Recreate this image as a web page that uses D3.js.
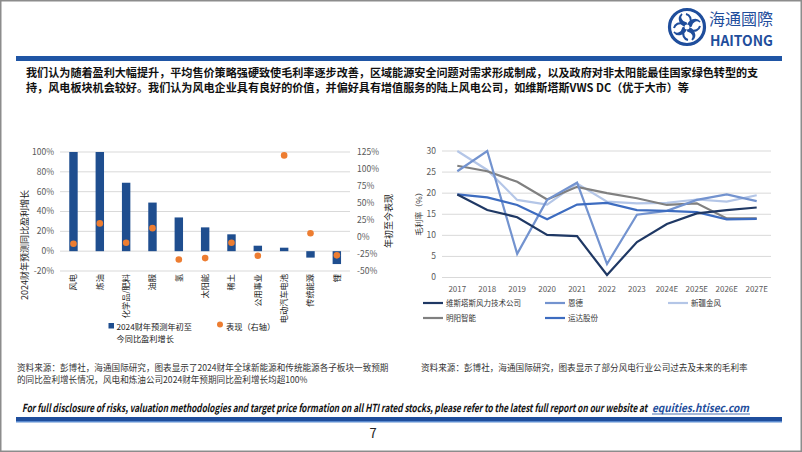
<!DOCTYPE html>
<html><head><meta charset="utf-8">
<script src="https://cdn.jsdelivr.net/npm/d3@7"></script>
<style>
html,body{margin:0;padding:0;background:#fff;}
svg{display:block;}
text{font-family:"Noto Sans CJK SC","Noto Sans",sans-serif;}
</style></head>
<body>
<svg id="c" width="802" height="452"></svg>
<script>
// ---------- data ----------
const categories = ["风电","炼油","化学品/肥料","油服","氢","太阳能","稀土","公用事业","电动汽车电池","传统能源","锂"];
const growth2024 = [100,100,69,49,34,24,17,5.5,3.5,-6.5,-13];
const ytdPerf = [-10,20,-8.5,13,-33,-31,-8.5,-27.5,120,5.5,-27];
const leftTicks = [-20,0,20,40,60,80,100];
const rightTicks = [-50,-25,0,25,50,75,100,125];

const years = ["2017","2018","2019","2020","2021","2022","2023","2024E","2025E","2026E","2027E"];
const vestas   = [19.7,16.0,14.3,10.1,9.8,0.6,8.4,12.7,15.2,16.0,16.6];
const nordex   = [25.2,30.0,5.6,18.4,22.5,3.2,14.9,15.8,18.4,19.7,18.1];
const goldwind = [30.0,25.5,18.4,17.3,22.3,18.0,17.6,17.7,18.5,18.0,19.5];
const mingyang = [26.5,25.2,22.7,18.5,21.5,20.0,18.8,17.2,17.6,14.0,14.0];
const windey   = [19.7,19.0,17.2,13.8,17.3,17.7,16.0,15.8,15.5,13.8,13.9];
const seriesNames = ["维斯塔斯风力技术公司","恩德","新疆金风","明阳智能","运达股份"];
const marginTicks = [0,5,10,15,20,25,30];

// ---------- styles ----------
const BLUE = "#1f4e8f", ORANGE = "#ed7d31", GRID = "#d9d9d9", TICK = "#595959";
const lineColors = ["#1f3864","#7393cf","#b4c6e7","#808080","#3d6cc0"];

const svg = d3.select("#c");
svg.append("rect").attr("width",802).attr("height",452).attr("fill","#fff");

// squeeze a text horizontally to a target width with a transform (keeps boxes honest)
function fitWidth(sel, x, y, target){
  const w = sel.node().getComputedTextLength();
  const s = Math.min(1, target / w);
  sel.attr("x",0).attr("y",0).attr("transform",`translate(${x},${y}) scale(${s},1)`);
}

// ---------- header ----------
const logo = svg.append("g").attr("transform","translate(687,27)");
logo.append("circle").attr("r",17.5).attr("fill","none").attr("stroke","#1f4e9c").attr("stroke-width",3.2);
for (let k=0;k<4;k++){
  logo.append("path")
    .attr("d","M0,0 C2,-7 9,-10 13,-5 C10,-8 5,-6 4,-1 Z")
    .attr("transform",`rotate(${k*90})`)
    .attr("fill","#1f4e9c").attr("stroke","#1f4e9c").attr("stroke-width",1.6);
  logo.append("path")
    .attr("d","M3,3 C8,5 12,3 13,-1")
    .attr("transform",`rotate(${k*90})`)
    .attr("fill","none").attr("stroke","#1f4e9c").attr("stroke-width",2);
}
logo.append("circle").attr("r",2.5).attr("fill","#fff");
svg.append("text").attr("x",709).attr("y",24.5).attr("font-size",16).attr("fill","#1f4e9c")
  .text("海通國際");
const hai = svg.append("text").attr("font-size",14.5).attr("font-weight","bold")
  .attr("fill","#1f4e9c").attr("font-family","Liberation Sans, Arial, sans-serif").text("HAITONG");
fitWidth(hai,710,46,63);

svg.append("rect").attr("x",16).attr("y",56).attr("width",766).attr("height",5).attr("fill","#1f55a5");

const para = [
 "我们认为随着盈利大幅提升，平均售价策略强硬致使毛利率逐步改善，区域能源安全问题对需求形成制成，以及政府对非太阳能最佳国家绿色转型的支",
 "持，风电板块机会较好。我们认为风电企业具有良好的价值，并偏好具有增值服务的陆上风电公司，如维斯塔斯VWS DC（优于大市）等"
];
svg.append("text").attr("x",26).attr("y",77).attr("font-size",11.1).attr("font-weight","bold").attr("fill","#111").text(para[0]);
svg.append("text").attr("x",26).attr("y",92).attr("font-size",11.1).attr("font-weight","bold").attr("fill","#111").text(para[1]);

// ---------- left chart ----------
const xL = d3.scaleBand().domain(categories).range([60.3,350]).paddingInner(0.68).paddingOuter(0.34);
const yL = d3.scaleLinear().domain([-20,100]).range([271,152]);
const yR = d3.scaleLinear().domain([-50,125]).range([271,152]);

const gL = svg.append("g");
gL.selectAll("line.grid").data(leftTicks).join("line")
  .attr("x1",60).attr("x2",350).attr("y1",d=>yL(d)).attr("y2",d=>yL(d))
  .attr("stroke",GRID).attr("stroke-width",1);
gL.selectAll("text.lt").data(leftTicks).join("text")
  .attr("x",54).attr("y",d=>yL(d)).attr("dy","0.35em").attr("text-anchor","end")
  .attr("font-size",8.5).attr("fill",TICK).attr("font-family","Liberation Sans, Arial, sans-serif")
  .text(d=>d+"%");
gL.selectAll("text.rt").data(rightTicks).join("text")
  .attr("x",357).attr("y",d=>yR(d)).attr("dy","0.35em").attr("text-anchor","start")
  .attr("font-size",8.5).attr("fill",TICK).attr("font-family","Liberation Sans, Arial, sans-serif")
  .text(d=>d+"%");

gL.selectAll("rect.bar").data(categories).join("rect")
  .attr("x",d=>xL(d)).attr("width",xL.bandwidth())
  .attr("y",(d,i)=>Math.min(yL(0),yL(growth2024[i])))
  .attr("height",(d,i)=>Math.abs(yL(growth2024[i])-yL(0)))
  .attr("fill",BLUE);
gL.selectAll("circle.dot").data(categories).join("circle")
  .attr("cx",d=>xL(d)+xL.bandwidth()/2).attr("cy",(d,i)=>yR(ytdPerf[i])).attr("r",3.3)
  .attr("fill",ORANGE);

gL.selectAll("text.cat").data(categories).join("text")
  .attr("transform",d=>`translate(${xL(d)+xL.bandwidth()/2},274) rotate(-90)`)
  .attr("dy","0.35em").attr("text-anchor","end").attr("font-size",8.2).attr("fill","#222")
  .text(d=>d);

svg.append("text").attr("transform","translate(25,245) rotate(-90)").attr("dy","0.35em")
  .attr("text-anchor","middle").attr("font-size",9).attr("fill","#222").text("2024财年预测同比盈利增长");
svg.append("text").attr("transform","translate(389,221) rotate(-90)").attr("dy","0.35em")
  .attr("text-anchor","middle").attr("font-size",9).attr("fill","#222").text("年初至今表现");

// legend left
svg.append("rect").attr("x",108.5).attr("y",323).attr("width",5.5).attr("height",5.5).attr("fill",BLUE);
svg.append("text").attr("x",116.5).attr("y",329.5).attr("font-size",8.2).attr("fill","#222").text("2024财年预测年初至");
svg.append("text").attr("x",116.5).attr("y",341.5).attr("font-size",8.2).attr("fill","#222").text("今同比盈利增长");
svg.append("circle").attr("cx",220).attr("cy",324.5).attr("r",3).attr("fill",ORANGE);
svg.append("text").attr("x",226).attr("y",329.5).attr("font-size",8.2).attr("fill","#222").text("表现（右轴）");

// ---------- right chart ----------
const xR = d3.scalePoint().domain(years).range([457.3,756.7]);
const yM = d3.scaleLinear().domain([0,30]).range([277.5,151]);
const gR = svg.append("g");
gR.selectAll("line.grid").data(marginTicks).join("line")
  .attr("x1",442).attr("x2",771).attr("y1",d=>yM(d)).attr("y2",d=>yM(d))
  .attr("stroke",GRID).attr("stroke-width",1);
gR.selectAll("text.yt").data(marginTicks).join("text")
  .attr("x",436).attr("y",d=>yM(d)).attr("dy","0.35em").attr("text-anchor","end")
  .attr("font-size",8.5).attr("fill",TICK).attr("font-family","Liberation Sans, Arial, sans-serif")
  .text(d=>d);
gR.selectAll("text.xt").data(years).join("text")
  .attr("x",d=>xR(d)).attr("y",292).attr("text-anchor","middle")
  .attr("font-size",8).attr("fill",TICK).attr("font-family","Liberation Sans, Arial, sans-serif")
  .text(d=>d);
svg.append("text").attr("transform","translate(419,212) rotate(-90)").attr("dy","0.35em")
  .attr("text-anchor","middle").attr("font-size",8).attr("fill","#333").text("毛利率（%）");

const allSeries = [vestas,nordex,goldwind,mingyang,windey];
const line = d3.line().x((d,i)=>xR(years[i])).y(d=>yM(d));
const drawOrder = [2,3,1,4,0];
drawOrder.forEach(s=>{
  gR.append("path").datum(allSeries[s]).attr("d",line)
    .attr("fill","none").attr("stroke",lineColors[s]).attr("stroke-width",2.2)
    .attr("stroke-linejoin","miter");
});

const legPos = [[423,303],[545,303],[668,303],[423,318],[545,318]];
seriesNames.forEach((n,i)=>{
  const [lx,ly]=legPos[i];
  svg.append("line").attr("x1",lx).attr("x2",lx+20).attr("y1",ly).attr("y2",ly)
    .attr("stroke",lineColors[i]).attr("stroke-width",2.2);
  svg.append("text").attr("x",lx+23).attr("y",ly+3).attr("font-size",7.5).attr("fill","#333").text(n);
});

// ---------- footnotes ----------
svg.append("text").attr("x",17).attr("y",371).attr("font-size",8.6).attr("fill","#333")
  .text("资料来源：彭博社，海通国际研究，图表显示了2024财年全球新能源和传统能源各子板块一致预期");
svg.append("text").attr("x",17).attr("y",383).attr("font-size",8.6).attr("fill","#333")
  .text("的同比盈利增长情况，风电和炼油公司2024财年预期同比盈利增长均超100%");
svg.append("text").attr("x",421).attr("y",371).attr("font-size",8.6).attr("fill","#333")
  .text("资料来源：彭博社，海通国际研究，图表显示了部分风电行业公司过去及未来的毛利率");

const disc = svg.append("text").attr("font-size",11).attr("font-weight","bold")
  .attr("font-style","italic").attr("fill","#111").attr("font-family","Liberation Sans, Arial, sans-serif")
  .text("For full disclosure of risks, valuation methodologies and target price formation on all HTI rated stocks, please refer to the latest full report on our website at");
fitWidth(disc,22,412,626);
const link = svg.append("text").attr("font-size",11).attr("font-weight","bold")
  .attr("font-style","italic").attr("fill","#1f4e9c")
  .attr("font-family","Liberation Sans, Arial, sans-serif").text("equities.htisec.com");
fitWidth(link,652,412,97);
svg.append("line").attr("x1",652).attr("x2",750).attr("y1",414).attr("y2",414).attr("stroke","#1f4e9c").attr("stroke-width",0.8);

svg.append("rect").attr("x",16).attr("y",417).attr("width",766).attr("height",4).attr("fill","#1f4e9c");
svg.append("rect").attr("x",16).attr("y",421).attr("width",766).attr("height",1.5).attr("fill","#5b8bd0");
svg.append("text").attr("x",373).attr("y",438).attr("font-size",13).attr("text-anchor","middle")
  .attr("fill","#222").attr("font-family","Liberation Sans, Arial, sans-serif").text("7");

// border
svg.append("rect").attr("x",0.75).attr("y",0.75).attr("width",800.5).attr("height",450.5)
  .attr("fill","none").attr("stroke","#8c8c8c").attr("stroke-width",1.5);
</script>
</body></html>
